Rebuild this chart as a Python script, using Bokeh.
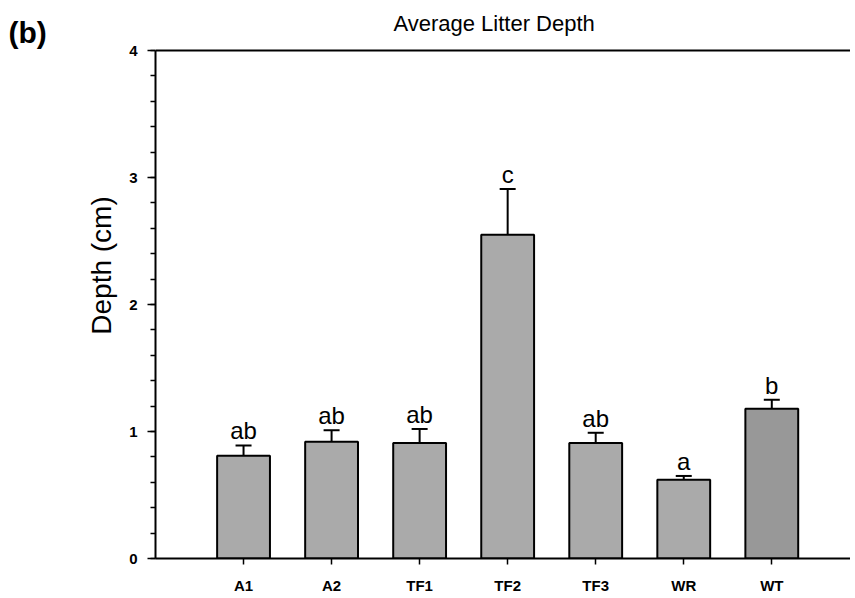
import math
from bokeh.plotting import figure
from bokeh.layouts import row
from bokeh.core.properties import value
from bokeh.models import (ColumnDataSource, Range1d, FixedTicker, Whisker, TeeHead,
                          LabelSet, Span)
from bokeh.embed import file_html
from bokeh.resources import INLINE

# ---- data ----
categories = ["A1", "A2", "TF1", "TF2", "TF3", "WR", "WT"]
mean_depth = [0.81, 0.92, 0.91, 2.55, 0.91, 0.62, 1.18]
se_depth = [0.08, 0.09, 0.11, 0.36, 0.08, 0.03, 0.07]
sig_letters = ["ab", "ab", "ab", "c", "ab", "a", "b"]
y_ticks = [0, 1, 2, 3, 4]
y_max = 4
panel_tag = "(b)"
chart_title = "Average Litter Depth"
y_label = "Depth (cm)"

# styles
bar_colors = ["#aaaaaa"] * 6 + ["#989898"]
FONT = "Liberation Sans"

xpos = list(range(1, len(categories) + 1))
upper = [m + s for m, s in zip(mean_depth, se_depth)]
src = ColumnDataSource(dict(x=xpos, mean=mean_depth, upper=upper,
                            letter=sig_letters, color=bar_colors))

# ---------------- main chart ----------------
p = figure(width=725, height=598, output_backend="svg", toolbar_location=None,
           x_range=Range1d(0, 7.894), y_range=Range1d(0, 4.394),
           min_border_left=30, min_border_right=0, min_border_top=0,
           min_border_bottom=40)
p.outline_line_color = None
p.grid.grid_line_color = None
p.background_fill_color = "white"
p.border_fill_color = "white"

p.vbar(x="x", top="mean", bottom=0, width=0.6, source=src, fill_color="color",
       line_color="black", line_width=2)

wh = Whisker(source=src, base="x", upper="upper", lower="mean", dimension="height",
             line_color="black", line_width=2,
             upper_head=TeeHead(size=16, line_color="black", line_width=2),
             lower_head=None)
p.add_layout(wh)

labels = LabelSet(x="x", y="upper", text="letter", source=src, y_offset=6,
                  text_align="center", text_baseline="alphabetic",
                  text_font=value(FONT), text_font_size=value("24px"),
                  text_color="black")
p.add_layout(labels)

# top line of the frame at y = 4
p.add_layout(Span(location=y_max, dimension="width", line_color="black", line_width=2))

# title drawn inside the (extended) frame
p.text(x=[3.846], y=[4.213], text=[chart_title], text_font=value(FONT),
       text_font_size=value("22px"), text_align="center",
       text_baseline="alphabetic", text_color="black")

# axes
xa = p.xaxis[0]
xa.ticker = FixedTicker(ticks=xpos)
xa.major_label_overrides = {i: c for i, c in zip(xpos, categories)}
xa.major_tick_out = 6
xa.major_tick_in = 0
xa.minor_tick_line_color = None
xa.axis_line_width = 2
xa.major_tick_line_width = 1.5
xa.major_label_standoff = 12
xa.major_label_text_font = FONT
xa.major_label_text_font_size = "15px"
xa.major_label_text_font_style = "bold"
xa.major_label_text_color = "black"

ya = p.yaxis[0]
ya.bounds = (0, y_max)
ya.ticker = FixedTicker(ticks=y_ticks,
                        minor_ticks=[i * 0.2 for i in range(0, 21)])
ya.major_tick_out = 8
ya.major_tick_in = 0
ya.minor_tick_out = 5
ya.minor_tick_in = 0
ya.axis_line_width = 2
ya.major_tick_line_width = 1.5
ya.minor_tick_line_width = 1.5
ya.major_label_standoff = 10
ya.major_label_text_font = FONT
ya.major_label_text_font_size = "15px"
ya.major_label_text_font_style = "bold"
ya.major_label_text_color = "black"

# ---------------- left strip: panel tag and y-axis title ----------------
q = figure(width=125, height=598, output_backend="svg", toolbar_location=None,
           x_range=Range1d(0, 125), y_range=Range1d(0, 598),
           x_axis_location=None, y_axis_location=None,
           min_border_left=0, min_border_right=0, min_border_top=0,
           min_border_bottom=0)
q.outline_line_color = None
q.grid.grid_line_color = None
q.background_fill_color = "white"
q.border_fill_color = "white"

q.text(x=[8], y=[581], text=[panel_tag], text_font=value(FONT),
       text_font_size=value("30px"), text_font_style="bold",
       text_align="left", text_baseline="top", text_color="black")
q.text(x=[101], y=[314], text=[y_label], text_font=value(FONT),
       text_font_size=value("28px"), angle=math.pi / 2,
       text_align="center", text_baseline="alphabetic", text_color="black")

layout = row(q, p)
open("out.html", "w").write(file_html(layout, INLINE))
